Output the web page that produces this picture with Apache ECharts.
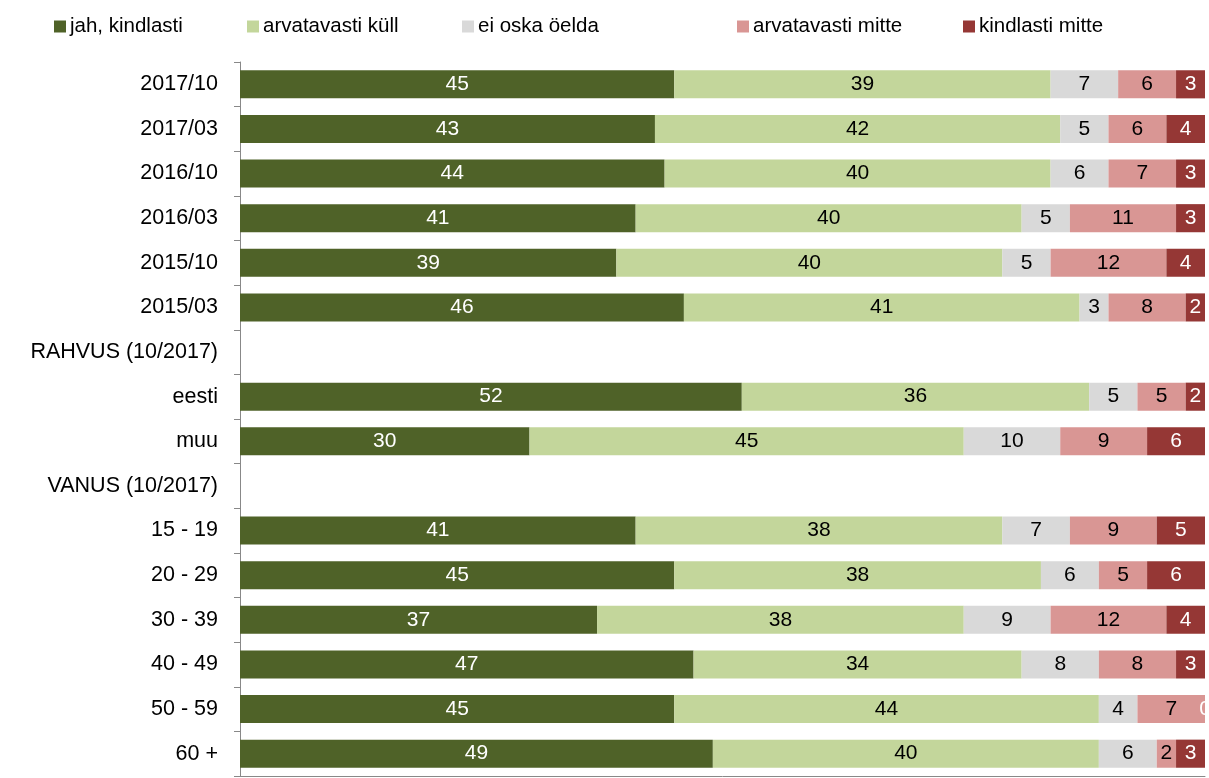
<!DOCTYPE html>
<html>
<head>
<meta charset="utf-8">
<script src="https://cdn.jsdelivr.net/npm/echarts@6/dist/echarts.min.js"></script>
<style>html,body{margin:0;padding:0;background:#fff}#c{width:1209px;height:778px}</style>
</head>
<body>
<div id="c"></div>
<script>
var categories = ['2017/10','2017/03','2016/10','2016/03','2015/10','2015/03','RAHVUS (10/2017)','eesti','muu','VANUS (10/2017)','15 - 19','20 - 29','30 - 39','40 - 49','50 - 59','60 +'];
var seriesNames = ['jah, kindlasti','arvatavasti küll','ei oska öelda','arvatavasti mitte','kindlasti mitte'];
var jahKindlasti      = [45,43,44,41,39,46,null,52,30,null,41,45,37,47,45,49];
var arvatavastiKull   = [39,42,40,40,40,41,null,36,45,null,38,38,38,34,44,40];
var eiOskaOelda       = [7,5,6,5,5,3,null,5,10,null,7,6,9,8,4,6];
var arvatavastiMitte  = [6,6,7,11,12,8,null,5,9,null,9,5,12,8,7,2];
var kindlastiMitte    = [3,4,3,3,4,2,null,2,6,null,5,6,4,3,0,3];

var colors = ['#4F6228','#C3D69B','#D9D9D9','#D99694','#953735'];
var labelColors = ['#fff','#000','#000','#000','#fff'];
var values = [jahKindlasti, arvatavastiKull, eiOskaOelda, arvatavastiMitte, kindlastiMitte];
var legendLeft = [49, 242, 457, 732, 958];
var FONT = '"Liberation Sans", Arial, sans-serif';

var series = values.map(function(v, i){
  return {
    name: seriesNames[i],
    type: 'bar',
    stack: 'total',
    barCategoryGap: '37%',
    data: v.map(function(x){ return x === null ? '-' : x; }),
    itemStyle: { color: colors[i] },
    label: {
      show: true,
      position: 'inside',
      color: labelColors[i],
      fontSize: 21,
      fontFamily: FONT,
      formatter: function(p){ return (p.value === '-' || p.value == null) ? '' : p.value; }
    },
    emphasis: { disabled: true }
  };
});

var legends = seriesNames.map(function(n, i){
  return {
    data: [n],
    left: legendLeft[i],
    top: 11,
    itemWidth: 12,
    itemHeight: 12,
    icon: 'rect',
    selectedMode: false,
    textStyle: { fontSize: 20.5, fontFamily: FONT, color: '#000', padding: [0,0,0,-1] }
  };
});

var chart = echarts.init(document.getElementById('c'), null, {renderer: 'canvas'});
chart.setOption({
  animation: false,
  color: colors,
  legend: legends,
  grid: { left: 240, right: 4, top: 62, bottom: 2, containLabel: false },
  xAxis: {
    type: 'value',
    min: 0,
    max: 100,
    axisLabel: { show: false },
    axisTick: { show: false },
    splitLine: { show: false },
    axisLine: { show: true, lineStyle: { color: '#888', width: 1 } }
  },
  yAxis: {
    type: 'category',
    data: categories,
    inverse: true,
    axisLine: { show: true, lineStyle: { color: '#888', width: 1 } },
    axisTick: { show: true, alignWithLabel: false, length: 6, lineStyle: { color: '#888' } },
    axisLabel: { fontSize: 21.5, fontFamily: FONT, color: '#000', margin: 22 }
  },
  series: series
});
</script>
</body>
</html>
